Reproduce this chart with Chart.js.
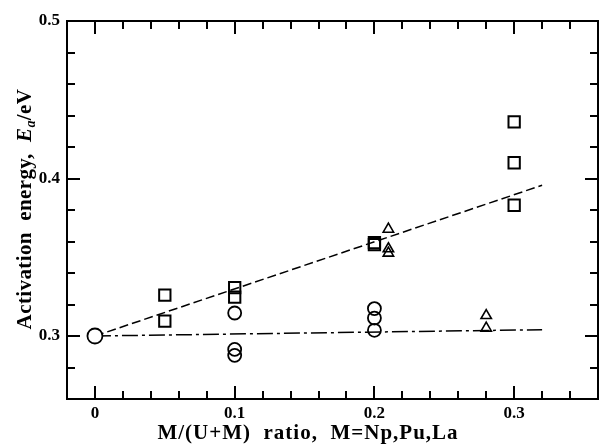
<!DOCTYPE html>
<html>
<head>
<meta charset="utf-8">
<script src="https://cdn.jsdelivr.net/npm/chart.js@4/dist/chart.umd.min.js"></script>
<style>
  html, body { margin: 0; padding: 0; background: #ffffff; }
  #wrap { width: 599px; height: 445px; }
</style>
</head>
<body>
<div id="wrap"><canvas id="c" width="599" height="445"></canvas></div>
<script>
// ---- data ----
const squareX   = [0.05, 0.05, 0.1, 0.1, 0.2, 0.2, 0.3, 0.3, 0.3];
const squareY   = [0.326, 0.3095, 0.3307, 0.3247, 0.3593, 0.358, 0.436, 0.410, 0.383];
const circleX   = [0.1, 0.1, 0.1, 0.2, 0.2, 0.2];
const circleY   = [0.3146, 0.2915, 0.2877, 0.3174, 0.3114, 0.3036];
const triangleX = [0.21, 0.21, 0.21, 0.28, 0.28];
const triangleY = [0.3678, 0.3554, 0.3526, 0.313, 0.305];
const originX   = [0];
const originY   = [0.3];
const fitX      = [0, 0.32];
const fitUpperY = [0.3, 0.3957];
const fitLowerY = [0.3, 0.304];
const xTickLabels = [0, 0.1, 0.2, 0.3];
const yTickLabels = [0.3, 0.4, 0.5];
const xMinorTicks = [0.02, 0.04, 0.06, 0.08, 0.12, 0.14, 0.16, 0.18, 0.22, 0.24, 0.26, 0.28, 0.32, 0.34];
const yMinorTicks = [0.28, 0.32, 0.34, 0.36, 0.38, 0.42, 0.44, 0.46, 0.48];
const xTitle = 'M/(U+M)  ratio,  M=Np,Pu,La';
const yTitleParts = ['Activation  energy,  ', 'E', 'a', '/eV'];

const pts = (xs, ys) => xs.map((x, i) => ({ x: x, y: ys[i] }));
const FONT = "'Liberation Serif', 'Times New Roman', serif";

const framePlugin = {
  id: 'frame',
  afterDraw(chart) {
    const ctx = chart.ctx;
    const a = chart.chartArea;
    const xs = chart.scales.x, ys = chart.scales.y;
    ctx.save();
    ctx.strokeStyle = '#000';
    ctx.lineWidth = 2;
    ctx.strokeRect(a.left, a.top, a.right - a.left, a.bottom - a.top);
    const MAJ = 13, MIN = 8;
    ctx.beginPath();
    const xt = (v, len) => {
      const px = Math.round(xs.getPixelForValue(v));
      ctx.moveTo(px, a.bottom); ctx.lineTo(px, a.bottom - len);
      ctx.moveTo(px, a.top); ctx.lineTo(px, a.top + len);
    };
    const yt = (v, len) => {
      const py = Math.round(ys.getPixelForValue(v));
      ctx.moveTo(a.left, py); ctx.lineTo(a.left + len, py);
      ctx.moveTo(a.right, py); ctx.lineTo(a.right - len, py);
    };
    xTickLabels.forEach(v => xt(v, MAJ));
    xMinorTicks.forEach(v => xt(v, MIN));
    yTickLabels.filter(v => v < 0.5).forEach(v => yt(v, MAJ));
    yMinorTicks.forEach(v => yt(v, MIN));
    ctx.stroke();

    // axis titles
    ctx.fillStyle = '#000';
    ctx.font = 'bold 21px ' + FONT;
    ctx.textBaseline = 'alphabetic';
    ctx.textAlign = 'left';
    ctx.letterSpacing = '1px';
    const tw = ctx.measureText(xTitle).width;
    ctx.fillText(xTitle, 308 - tw / 2, 439);

    // y title with italic E_a
    ctx.letterSpacing = '0.4px';
    const fUp = 'bold 21px ' + FONT;
    const fIt = 'italic bold 21px ' + FONT;
    const fSub = 'italic bold 14px ' + FONT;
    const fonts = [fUp, fIt, fSub, fUp];
    const widths = yTitleParts.map((t, i) => { ctx.font = fonts[i]; return ctx.measureText(t).width; });
    const total = widths.reduce((s, w) => s + w, 0);
    ctx.translate(31, 209);
    ctx.rotate(-Math.PI / 2);
    let x0 = -total / 2;
    yTitleParts.forEach((t, i) => {
      ctx.font = fonts[i];
      ctx.fillText(t, x0, i === 2 ? 4 : 0);
      x0 += widths[i];
    });
    ctx.restore();
  }
};

new Chart(document.getElementById('c'), {
  type: 'scatter',
  data: {
    datasets: [
      { label: 'origin', data: pts(originX, originY), pointStyle: 'circle', pointRadius: 7.5,
        borderColor: '#000', backgroundColor: '#fff', borderWidth: 1.8 },
      { label: 'squares', data: pts(squareX, squareY), pointStyle: 'rect', pointRadius: 8,
        borderColor: '#000', backgroundColor: 'rgba(0,0,0,0)', borderWidth: 2 },
      { label: 'circles', data: pts(circleX, circleY), pointStyle: 'circle', pointRadius: 6.5,
        borderColor: '#000', backgroundColor: 'rgba(0,0,0,0)', borderWidth: 1.8 },
      { label: 'triangles', data: pts(triangleX, triangleY), pointStyle: 'triangle', pointRadius: 6,
        borderColor: '#000', backgroundColor: 'rgba(0,0,0,0)', borderWidth: 1.6 },
      { type: 'line', label: 'fit1', data: pts(fitX, fitUpperY), borderColor: '#000', borderWidth: 1.5,
        borderDash: [9, 4], pointRadius: 0, fill: false },
      { type: 'line', label: 'fit2', data: pts(fitX, fitLowerY), borderColor: '#000', borderWidth: 1.5,
        borderDash: [16, 4, 3, 4], pointRadius: 0, fill: false }
    ]
  },
  options: {
    responsive: false,
    animation: false,
    devicePixelRatio: 1,
    layout: { autoPadding: false, padding: { left: 0, right: 1, top: 21, bottom: 0 } },
    plugins: { legend: { display: false }, tooltip: { enabled: false }, title: { display: false } },
    scales: {
      x: {
        type: 'linear', min: -0.02, max: 0.36,
        grid: { display: false, drawTicks: false },
        border: { display: false },
        afterBuildTicks: s => { s.ticks = xTickLabels.map(v => ({ value: v })); },
        afterFit: s => { s.height = 46; },
        ticks: { padding: 4, color: '#000', maxRotation: 0, autoSkip: false,
                 font: { family: FONT, weight: 'bold', size: 17 },
                 callback: v => (v === 0 ? '0' : v.toFixed(1)) }
      },
      y: {
        type: 'linear', min: 0.26, max: 0.5,
        grid: { display: false, drawTicks: false },
        border: { display: false },
        afterBuildTicks: s => { s.ticks = yTickLabels.map(v => ({ value: v })); },
        afterFit: s => { s.width = 67; },
        ticks: { padding: 7, color: '#000', autoSkip: false,
                 font: { family: FONT, weight: 'bold', size: 17 },
                 callback: v => v.toFixed(1) }
      }
    }
  },
  plugins: [framePlugin]
});
</script>
</body>
</html>
